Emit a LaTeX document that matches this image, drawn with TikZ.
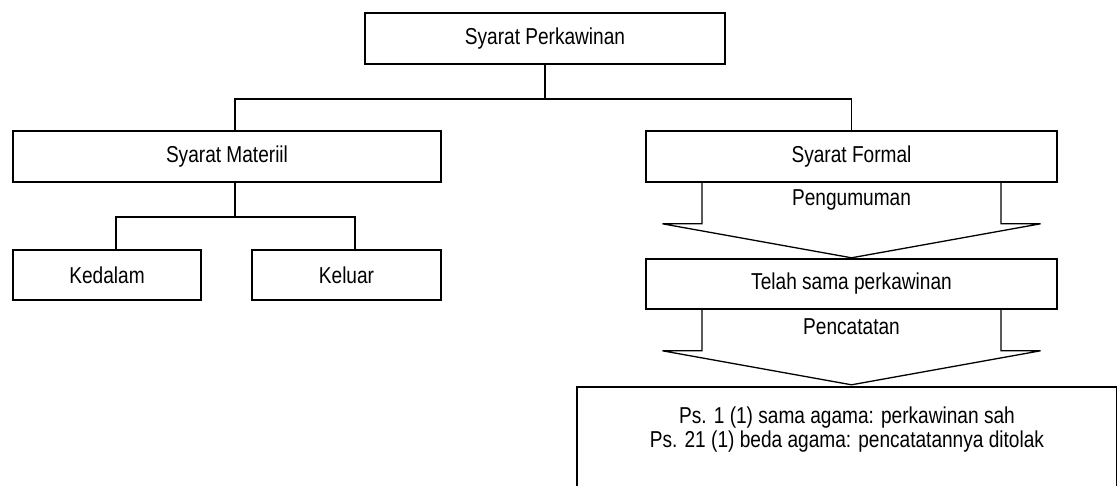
\documentclass[tikz,border=0pt]{standalone}
\usepackage{fontspec}
\setmainfont{Liberation Sans}[FakeStretch=0.83]
\usetikzlibrary{positioning}

\begin{document}
\begin{tikzpicture}[x=1pt, y=-1pt,
  box/.style={draw, line width=1.6pt, inner sep=0pt, font=\fontsize{23}{24}\selectfont},
  lbl/.style={inner sep=0pt, font=\fontsize{23}{24}\selectfont},
  link/.style={line width=1.6pt},
  flow/.style={line width=1.3pt, line join=miter}]
  \useasboundingbox (0,0) rectangle (1118,486);
  \node (syarat) [box, minimum width=360pt, minimum height=51pt] at (545,38.5) {Syarat Perkawinan};
  \node (materiil) [box, minimum width=428pt, minimum height=51pt] at (227,156.5) {Syarat Materiil};
  \node (formal) [box, minimum width=411pt, minimum height=51pt] at (851.5,156.5) {Syarat Formal};
  \node (kedalam) [box, minimum width=188pt, minimum height=50pt] at (107,275) {Kedalam};
  \node (keluar) [box, minimum width=189pt, minimum height=50pt] at (346.5,275) {Keluar};
  \node (telah) [box, minimum width=411pt, minimum height=50pt] at (851.5,284) {Telah sama perkawinan};
  \node (pasal) [inner sep=0pt, minimum width=539pt, minimum height=110pt, anchor=north west] at (577,387) {};
  \node (pasal text) [lbl, align=center] at (847,430) {Ps. 1 (1) sama agama: perkawinan sah\\Ps. 21 (1) beda agama: pencatatannya ditolak};
  \draw [link] (pasal.south west) -- (pasal.north west) -- (pasal.north east) -- (pasal.south east);
  % tree
  \draw [link] (syarat.south) -- ++(0,34) coordinate (split);
  \draw [link] ([xshift=8pt]materiil.north) |- (split) -| (formal.north);
  \draw [link] ([xshift=8pt]materiil.south) -- ++(0,34) coordinate (fork);
  \draw [link] ([xshift=9pt]kedalam.north) |- (fork) -| ([xshift=8.5pt]keluar.north);
  % block arrows
  \draw [flow] ([xshift=-149.5pt]formal.south) -- ++(0,41) -- ++(-39.5,0) -- ++(189,34) -- ++(189,-34) -- ++(-39.5,0) -- ([xshift=149.5pt]formal.south);
  \node (pengumuman) [lbl] at ([yshift=-17pt]formal.south) {Pengumuman};
  \draw [flow] ([xshift=-149.5pt]telah.south) -- ++(0,41) -- ++(-39.5,0) -- ++(189,34) -- ++(189,-34) -- ++(-39.5,0) -- ([xshift=149.5pt]telah.south);
  \node (pencatatan) [lbl] at ([yshift=-17pt]telah.south) {Pencatatan};
\end{tikzpicture}
\end{document}
